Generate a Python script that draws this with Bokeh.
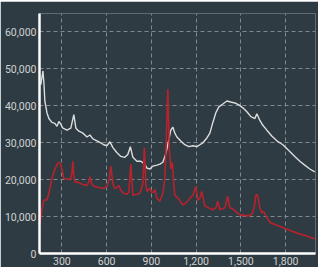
from bokeh.plotting import figure
from bokeh.models import FixedTicker, NumeralTickFormatter, Range1d
from bokeh.embed import file_html
from bokeh.resources import INLINE

# White series (wavenumber, intensity)
white_x = [159, 173, 179, 186, 200, 213, 233, 253, 267, 280, 293, 307, 334, 360, 380, 394,
           414, 441, 468, 488, 508, 535, 561, 581, 601, 622, 642, 668, 695, 722, 742, 759,
           776, 803, 829, 856, 870, 890, 910, 937, 957, 977, 997, 1017, 1030, 1044, 1057,
           1071, 1097, 1124, 1151, 1178, 1205, 1225, 1245, 1272, 1292, 1312, 1332, 1352,
           1379, 1406, 1432, 1459, 1486, 1513, 1540, 1567, 1594, 1607, 1627, 1647, 1674,
           1707, 1741, 1781, 1821, 1861, 1895, 1928, 1962, 1995]
white_y = [45760, 49440, 46500, 41290, 38135, 36560, 35500, 35240, 34450, 35770, 35000, 33930,
           33400, 33930, 37600, 33930, 33140, 32600, 31560, 32090, 31030, 30500, 29980, 29460,
           29190, 30250, 28670, 27350, 26300, 26040, 26830, 28930, 26040, 24985, 24985, 24200,
           23140, 22880, 23670, 23930, 24200, 24720, 27090, 30770, 33400, 34190, 32600, 31560,
           30500, 29460, 28930, 29190, 28930, 29460, 29980, 31300, 32610, 35500, 38130, 39710,
           40500, 41290, 41030, 40770, 40240, 39450, 38400, 37080, 36560, 37870, 36030, 34720,
           33400, 31820, 30510, 29460, 27880, 26300, 24985, 23930, 22880, 22090]

# Red series (wavenumber, intensity)
red_x = [153, 166, 179, 200, 213, 233, 253, 273, 287, 300, 313, 334, 354, 367, 374, 380, 387,
         414, 441, 468, 481, 488, 501, 521, 548, 581, 601, 615, 628, 642, 655, 668, 682, 695,
         715, 735, 749, 762, 776, 803, 823, 843, 853, 863, 870, 883, 890, 903, 916, 923, 937,
         957, 977, 990, 1000, 1010, 1020, 1030, 1040, 1050, 1057, 1084, 1111, 1138, 1158,
         1178, 1198, 1211, 1225, 1238, 1258, 1285, 1312, 1332, 1345, 1359, 1392, 1406, 1412,
         1426, 1446, 1473, 1493, 1526, 1560, 1580, 1594, 1600, 1607, 1613, 1627, 1640, 1653,
         1667, 1694, 1741, 1808, 1875, 1942, 1995]
red_y = [7900, 11840, 14470, 14470, 16300, 20250, 22880, 24460, 24720, 22880, 20250, 20250,
         19990, 21570, 24985, 21000, 19460, 19200, 18670, 18410, 19460, 20780, 18670, 18150,
         17880, 17620, 18150, 19720, 23670, 18940, 17620, 17880, 18410, 17100, 16300, 16040,
         16570, 24200, 15780, 16040, 16300, 18940, 28670, 18940, 16830, 17360, 17620, 16570,
         16570, 17360, 15000, 14200, 16300, 20250, 30770, 44450, 28140, 22880, 24720, 18940,
         15780, 14730, 13150, 13940, 15000, 15780, 18150, 14470, 15000, 16830, 12890, 12360,
         11840, 12360, 14200, 11840, 12360, 14470, 15520, 12360, 12100, 11050, 10520, 10260,
         10260, 11050, 13680, 15780, 16040, 15520, 12360, 11050, 11310, 10260, 8420, 7630,
         6580, 5520, 4730, 3950]

x_ticks = [300, 600, 900, 1200, 1500, 1800]
y_ticks = [0, 10000, 20000, 30000, 40000, 50000, 60000]

BG = "#2e3b42"

p = figure(width=318, height=266, output_backend="svg", toolbar_location=None,
           x_range=Range1d(150, 2000), y_range=Range1d(0, 65000),
           background_fill_color=BG, border_fill_color=BG,
           min_border_left=39, min_border_right=3, min_border_top=12, min_border_bottom=4)
p.styles = {"margin-top": "1px"}
p.outline_line_color = None

p.line(white_x, white_y, line_color="#dcdcdc", line_width=1.4)
p.line(red_x, red_y, line_color="#b8222d", line_width=1.6)

for ax in (p.xaxis[0], p.yaxis[0]):
    ax.axis_line_color = "white"
    ax.axis_line_width = 2.5
    ax.major_tick_line_color = None
    ax.minor_tick_line_color = None
    ax.major_tick_out = 0
    ax.major_tick_in = 0
    ax.minor_tick_out = 0
    ax.minor_tick_in = 0
    ax.major_label_text_color = "#d2d2d2"
    ax.major_label_text_font = "Roboto"
    ax.major_label_text_font_size = "10.5px"
    ax.major_label_standoff = 3
    ax.formatter = NumeralTickFormatter(format="0,0")

p.xaxis[0].ticker = FixedTicker(ticks=x_ticks)
p.yaxis[0].ticker = FixedTicker(ticks=y_ticks)

for g in (p.xgrid[0], p.ygrid[0]):
    g.grid_line_color = "#7f898e"
    g.grid_line_dash = "4 3"
    g.grid_line_width = 1
p.xgrid[0].ticker = FixedTicker(ticks=x_ticks)
p.ygrid[0].ticker = FixedTicker(ticks=y_ticks)

open("out.html", "w").write(file_html(p, INLINE))
